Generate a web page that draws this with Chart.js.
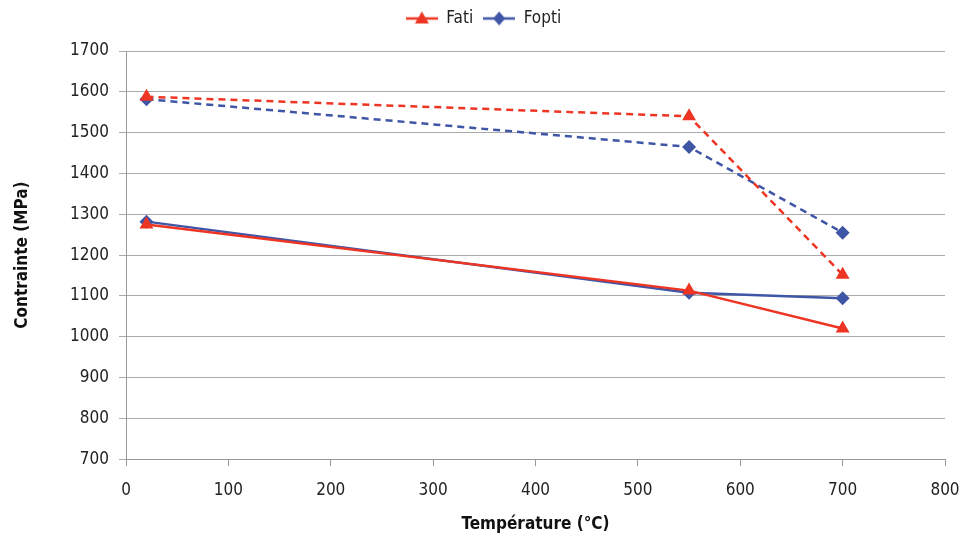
<!DOCTYPE html>
<html>
<head>
<meta charset="utf-8">
<script src="https://cdn.jsdelivr.net/npm/chart.js@4/dist/chart.umd.min.js"></script>
<style>
  html, body { margin: 0; padding: 0; background: #fff; }
  #wrap { width: 964px; height: 537px; }
</style>
</head>
<body>
<div id="wrap"><canvas id="chart"></canvas></div>
<script>
// -------------------- DATA --------------------
const temperatures = [20, 550, 700];
const fatiSolid = [1275, 1113, 1020];
const foptiSolid = [1282, 1108, 1094];
const fatiDashed = [1588, 1540, 1152];
const foptiDashed = [1582, 1465, 1255];
const yTicks = [700, 800, 900, 1000, 1100, 1200, 1300, 1400, 1500, 1600, 1700];

const RED = "#ee3524";
const BLUE = "#3f55a6";
const FONT = "'DejaVu Sans Condensed', 'Open Sans', sans-serif";

function pts(vals){
    return vals.map((v,i)=>({x:temperatures[i], y:v}));
}

function series(label, vals, color, marker, dashed){
    return {
        label,
        data: pts(vals),
        borderColor: color,
        backgroundColor: color,
        borderWidth: 2.5,
        borderDash: dashed ? [7,5] : [],
        pointStyle: marker,
        pointRadius: marker === "triangle" ? 8 : 7,
        pointBorderWidth: 0,
        fill: false,
        tension: 0
    };
}

// legend icon: short line with the marker on it
function legendIcon(color, marker){
    const c = document.createElement("canvas");
    c.width = 32; c.height = 16;
    const g = c.getContext("2d");
    g.strokeStyle = color; g.fillStyle = color; g.lineWidth = 2.5;
    g.beginPath(); g.moveTo(0,8); g.lineTo(32,8); g.stroke();
    g.beginPath();
    if(marker === "triangle"){
        g.moveTo(16,1); g.lineTo(23,13); g.lineTo(9,13);
    } else {
        g.moveTo(16,1); g.lineTo(22,8); g.lineTo(16,15); g.lineTo(10,8);
    }
    g.closePath(); g.fill();
    return c;
}

// push the plot area down below the legend
const legendGap = {
    id: "legendGap",
    beforeInit(chart){
        const fit = chart.legend.fit;
        chart.legend.fit = function(){ fit.bind(this)(); this.height += 14; };
    }
};

// -------------------- CHART --------------------
new Chart(document.getElementById("chart"), {
    type: "line",
    plugins: [legendGap],
    data: {
        datasets: [
            series("Fati", fatiDashed, RED, "triangle", true),
            series("Fopti", foptiDashed, BLUE, "rectRot", true),
            series("Fati", fatiSolid, RED, "triangle", false),
            series("Fopti", foptiSolid, BLUE, "rectRot", false)
        ]
    },
    options: {
        responsive: true,
        maintainAspectRatio: false,
        animation: false,
        layout: { padding: { left: 8, right: 5, top: 0, bottom: 0 } },
        plugins: {
            legend: {
                position: "top",
                labels: {
                    generateLabels: (chart)=>{
                        const items = Chart.defaults.plugins.legend.labels.generateLabels(chart);
                        items.forEach(it=>{
                            it.pointStyle = legendIcon(it.datasetIndex % 2 ? BLUE : RED, it.datasetIndex % 2 ? "rectRot" : "triangle");
                        });
                        return items.filter(it=>it.datasetIndex >= 2);
                    },
                    usePointStyle: true,
                    pointStyleWidth: 32,
                    boxHeight: 10,
                    padding: 10,
                    color: "#222",
                    font: { family: FONT, size: 17 }
                }
            },
            tooltip: { enabled: false }
        },
        scales: {
            x: {
                type: "linear",
                min: 0, max: 800,
                afterFit: (axis)=>{ axis.paddingRight = 19; },
                ticks: { stepSize: 100, color: "#222", padding: 14, font: { family: FONT, size: 17 } },
                grid: { display: true, drawOnChartArea: false, drawTicks: true, tickLength: 7, color: "#999" },
                border: { color: "#999", width: 1 },
                title: { display: true, text: "Température (°C)", color: "#111", font: { family: FONT, size: 17, weight: "bold" }, padding: { top: 0, bottom: 2 } }
            },
            y: {
                min: 700, max: 1700,
                afterBuildTicks: (axis)=>{ axis.ticks = yTicks.map(v=>({value:v})); },
                afterFit: (axis)=>{ axis.width = 118; },
                ticks: { color: "#222", padding: 10, font: { family: FONT, size: 17 }, callback: (v)=>String(v) },
                grid: { color: "#aaa", tickLength: 7, lineWidth: 1 },
                border: { color: "#999", width: 1 },
                title: { display: true, text: "Contrainte (MPa)", color: "#111", font: { family: FONT, size: 17, weight: "bold" }, padding: { bottom: 6 } }
            }
        }
    }
});
</script>
</body>
</html>
